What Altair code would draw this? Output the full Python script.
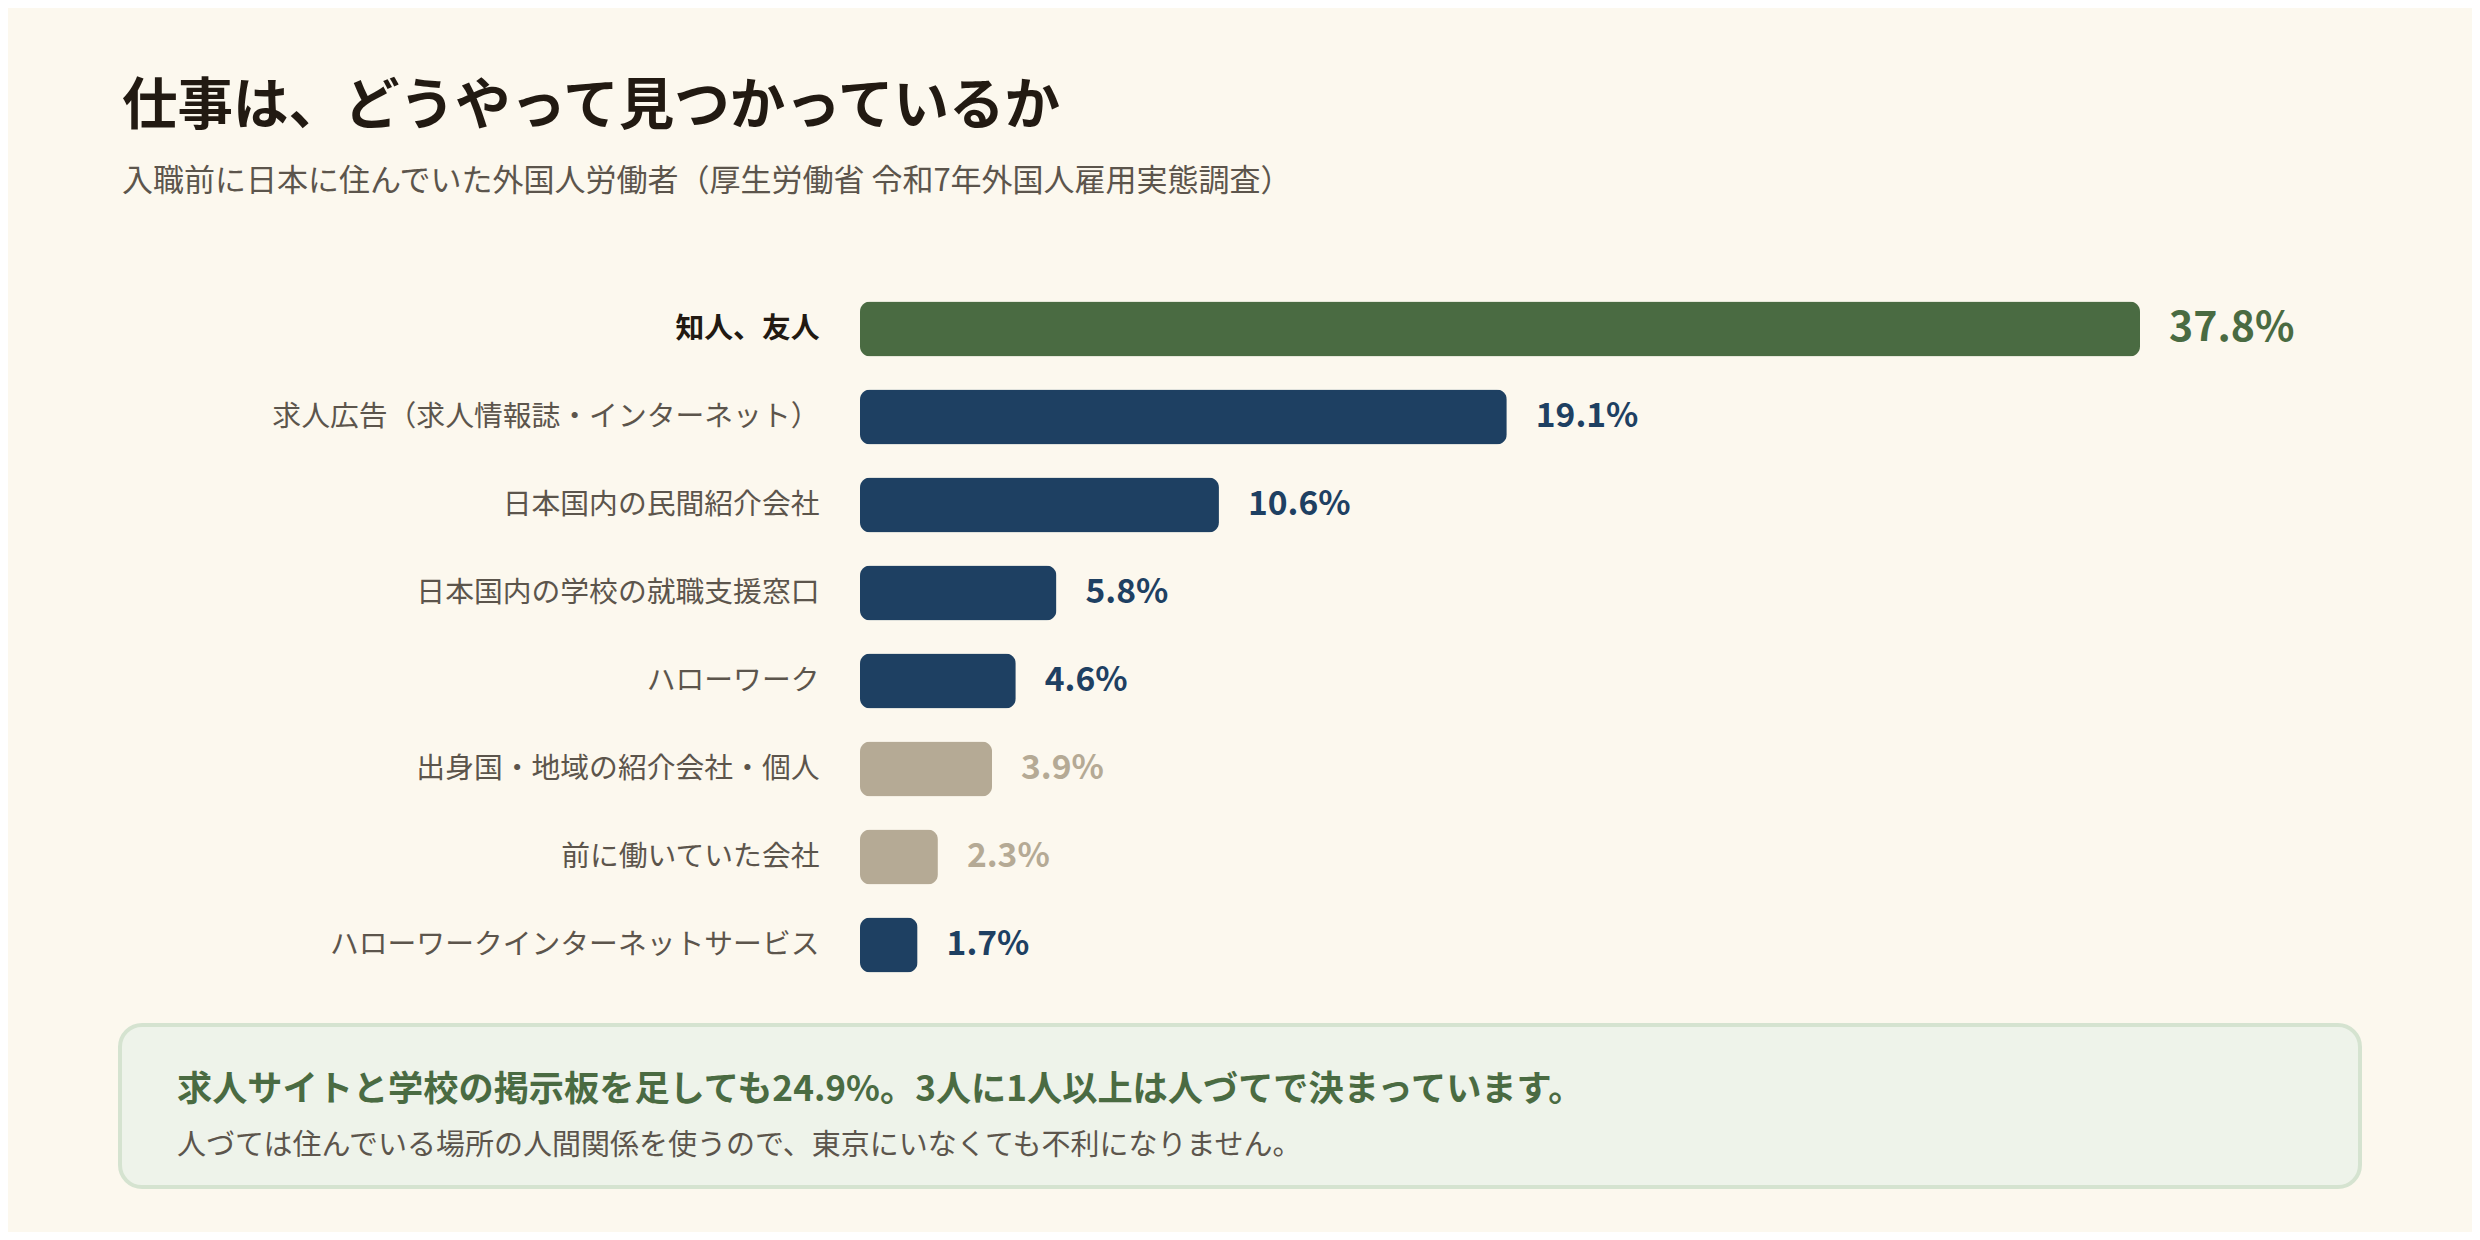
import pandas as pd
import altair as alt

FONT = "Noto Sans CJK JP"

categories = [
    "知人、友人",
    "求人広告（求人情報誌・インターネット）",
    "日本国内の民間紹介会社",
    "日本国内の学校の就職支援窓口",
    "ハローワーク",
    "出身国・地域の紹介会社・個人",
    "前に働いていた会社",
    "ハローワークインターネットサービス",
]
shares = [37.8, 19.1, 10.6, 5.8, 4.6, 3.9, 2.3, 1.7]
kinds = ["人づて", "公的・求人", "公的・求人", "公的・求人", "公的・求人", "その他", "その他", "公的・求人"]

title_text = "仕事は、どうやって見つかっているか"
subtitle_text = "入職前に日本に住んでいた外国人労働者（厚生労働省 令和7年外国人雇用実態調査）"
note_head = "求人サイトと学校の掲示板を足しても24.9%。3人に1人以上は人づてで決まっています。"
note_body = "人づては住んでいる場所の人間関係を使うので、東京にいなくても不利になりません。"

df = pd.DataFrame({"項目": categories, "割合": shares, "区分": kinds})
df["表示"] = df["割合"].map(lambda v: f"{v:.1f}%")

color = alt.Color("区分:N", legend=None,
                  scale=alt.Scale(domain=["人づて", "公的・求人", "その他"],
                                  range=["#4a6b42", "#1e4062", "#b5aa95"]))
is_top = alt.datum.項目 == categories[0]

base = alt.Chart(df).encode(
    y=alt.Y("項目:N", sort=categories, title=None,
            scale=alt.Scale(paddingInner=0.375, paddingOuter=0.1875),
            axis=alt.Axis(domain=False, ticks=False, tickSize=0, grid=False,
                          labelPadding=41, labelFont=FONT, labelFontSize=28.8,
                          labelLimit=800,
                          labelColor=alt.condition("datum.value == '知人、友人'",
                                                   alt.value("#221a12"), alt.value("#5c554c")),
                          labelFontWeight=alt.condition("datum.value == '知人、友人'",
                                                        alt.value("bold"), alt.value("normal")))),
)

bars = base.mark_bar(cornerRadius=10).encode(
    x=alt.X("割合:Q", axis=None, scale=alt.Scale(domain=[0, 37.8], nice=False)),
    color=color,
)

values = base.mark_text(align="left", baseline="middle", dx=29, font=FONT,
                        fontWeight="bold").encode(
    x="割合:Q",
    text="表示:N",
    color=color,
    size=alt.condition(is_top, alt.value(41), alt.value(33.6)),
)

note = pd.DataFrame({"t": [0]})
box = alt.Chart(note).mark_rect(cornerRadius=22, fill="#eef3ea", stroke="#d5e3d0",
                                strokeWidth=4).encode(
    x=alt.value(-740), x2=alt.value(1500), y=alt.value(740), y2=alt.value(902))


def label(text, x, y, size, color, weight="normal"):
    return alt.Chart(note).mark_text(align="left", baseline="alphabetic", font=FONT,
                                     fontSize=size, fontWeight=weight, color=color).encode(
        x=alt.value(x), y=alt.value(y), text=alt.value(text))


chart = alt.layer(
    bars, values, box,
    label(title_text, -738, -161, 55.5, "#221a12", "bold"),
    label(subtitle_text, -738, -94, 31, "#5c554c"),
    label(note_head, -683, 816, 35.2, "#4a6b42", "bold"),
    label(note_body, -683, 870, 29, "#5c554c"),
).properties(
    width=1280,
    height=704,
    autosize=alt.AutoSizeParams(type="none"),
    padding={"left": 852, "top": 277, "right": 332, "bottom": 243},
    background="#fcf8ee",
).configure_view(stroke=None)

chart.save("out.html", embed_options={"renderer": "svg", "actions": False})
